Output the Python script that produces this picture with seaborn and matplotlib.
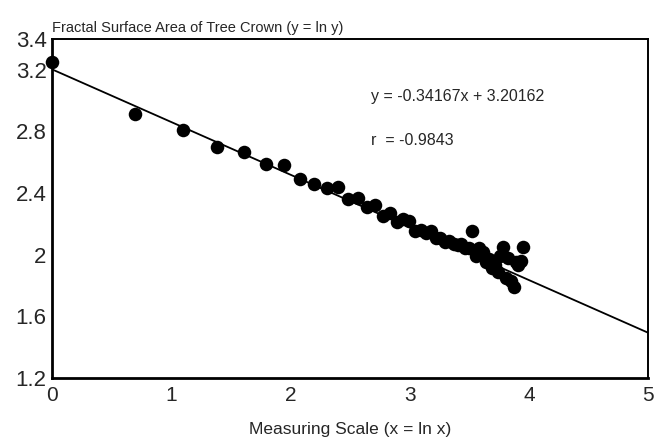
import numpy as np
import pandas as pd
import seaborn as sns
from matplotlib import pyplot as plt

# measuring scale n = 1..52, plotted as ln(n)
scale = list(range(1, 53))
ln_area = [3.25, 2.91, 2.81, 2.70, 2.665, 2.59, 2.58, 2.49, 2.46, 2.43,
           2.44, 2.36, 2.37, 2.31, 2.32, 2.25, 2.27, 2.21, 2.23, 2.22,
           2.15, 2.16, 2.14, 2.15, 2.11, 2.11, 2.08, 2.09, 2.07, 2.06,
           2.07, 2.04, 2.04, 2.15, 1.99, 2.04, 2.02, 1.95, 1.97, 1.91,
           1.93, 1.89, 1.99, 2.05, 1.85, 1.98, 1.83, 1.79, 1.95, 1.93,
           1.96, 2.05]
slope = -0.34167
intercept = 3.20162
r_value = -0.9843
line_x = [0, 5]

xticks = [0, 1, 2, 3, 4, 5]
yticks = [1.2, 1.6, 2.0, 2.4, 2.8, 3.2, 3.4]
ytick_labels = ["1.2", "1.6", "2", "2.4", "2.8", "3.2", "3.4"]


def main():
    sns.set_theme(style="white")
    plt.rcParams['font.family'] = ['Liberation Sans', 'DejaVu Sans']

    pts = pd.DataFrame({"x": np.log(scale), "y": ln_area})
    fit = pd.DataFrame({"x": line_x, "y": [intercept + slope * v for v in line_x]})

    fig = plt.figure(figsize=(6.6, 4.41), dpi=100)
    ax = fig.add_axes([0.079, 0.143, 0.903, 0.769])

    sns.lineplot(data=fit, x="x", y="y", ax=ax, color="black", linewidth=1.3)
    sns.scatterplot(data=pts, x="x", y="y", ax=ax, color="black", s=95,
                    edgecolor="black", linewidth=0, zorder=3, clip_on=False)

    ax.set_xlim(0, 5)
    ax.set_ylim(1.2, 3.4)
    ax.set_xticks(xticks)
    ax.set_xticklabels([str(t) for t in xticks], fontsize=15)
    ax.set_yticks(yticks)
    ax.set_yticklabels(ytick_labels, fontsize=16)
    ax.tick_params(axis="x", length=0, pad=6)
    ax.tick_params(axis="y", length=0, pad=4)

    for side in ["left", "bottom"]:
        ax.spines[side].set_linewidth(2)
    for side in ["top", "right"]:
        ax.spines[side].set_linewidth(1.4)
    for sp in ax.spines.values():
        sp.set_color("black")

    ax.set_xlabel("Measuring Scale (x = ln x)", fontsize=12.5, labelpad=12)
    ax.set_ylabel("")
    ax.text(0.0, 1.012, "Fractal Surface Area of Tree Crown (y = ln y)",
            transform=ax.transAxes, fontsize=10.5, ha="left", va="bottom")
    ax.text(0.535, 0.83, f"y = {slope}x + {intercept}", transform=ax.transAxes,
            fontsize=11.5, ha="left", va="center")
    ax.text(0.535, 0.70, f"r  = {r_value}", transform=ax.transAxes,
            fontsize=11.5, ha="left", va="center")

    fig.savefig("out.png", dpi=100)


if __name__ == "__main__":
    main()
